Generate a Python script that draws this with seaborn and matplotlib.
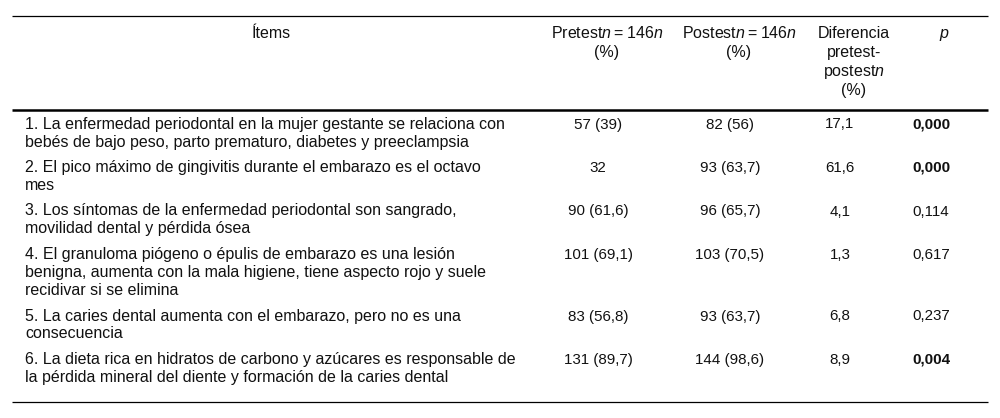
import matplotlib
matplotlib.use("Agg")
import matplotlib.pyplot as plt
import seaborn as sns

# datos de la tabla
items = [
    "1. La enfermedad periodontal en la mujer gestante se relaciona con\nbebés de bajo peso, parto prematuro, diabetes y preeclampsia",
    "2. El pico máximo de gingivitis durante el embarazo es el octavo\nmes",
    "3. Los síntomas de la enfermedad periodontal son sangrado,\nmovilidad dental y pérdida ósea",
    "4. El granuloma piógeno o épulis de embarazo es una lesión\nbenigna, aumenta con la mala higiene, tiene aspecto rojo y suele\nrecidivar si se elimina",
    "5. La caries dental aumenta con el embarazo, pero no es una\nconsecuencia",
    "6. La dieta rica en hidratos de carbono y azúcares es responsable de\nla pérdida mineral del diente y formación de la caries dental",
]
pretest = ["57 (39)", "32", "90 (61,6)", "101 (69,1)", "83 (56,8)", "131 (89,7)"]
postest = ["82 (56)", "93 (63,7)", "96 (65,7)", "103 (70,5)", "93 (63,7)", "144 (98,6)"]
diferencia = ["17,1", "61,6", "4,1", "1,3", "6,8", "8,9"]
p_valor = ["0,000", "0,000", "0,114", "0,617", "0,237", "0,004"]
significativo = [True, True, False, False, False, True]

headers = [
    "Ítems",
    "Pretest$n$\u2009=\u2009146$n$\n(%)",
    "Postest$n$\u2009=\u2009146$n$\n(%)",
    "Diferencia\npretest-\npostest$n$\n(%)",
    "$p$",
]

sns.set_theme(style="white")
font = "Liberation Sans"
plt.rcParams["font.family"] = [font, "DejaVu Sans"]
plt.rcParams["mathtext.fontset"] = "custom"
plt.rcParams["mathtext.it"] = font + ":italic"
plt.rcParams["mathtext.rm"] = font

fig = plt.figure(figsize=(10, 4.18), dpi=100)
ax = fig.add_axes([0, 0, 1, 1])
ax.set_xlim(0, 1000)
ax.set_ylim(418, 0)
ax.axis("off")

fs_txt = 11.5
fs_num = 10.9
lh = 18.0
head_x = [271, 607, 739, 854, 944]
data_x = [25, 598, 730, 840, 931]
ink = "#111111"

# cabecera
for x, h in zip(head_x, headers):
    for i, line in enumerate(h.split("\n")):
        ax.text(x, 38 + i * 19, line, ha="center", va="baseline",
                fontsize=fs_txt, color=ink)

ax.plot([12, 988], [15.5, 15.5], color="black", lw=0.9, solid_capstyle="butt")
ax.plot([12, 988], [109.5, 109.5], color="black", lw=1.8, solid_capstyle="butt")

y = 128.5
for k in range(len(items)):
    lines = items[k].split("\n")
    for i, line in enumerate(lines):
        ax.text(data_x[0], y + i * lh, line, ha="left", va="baseline",
                fontsize=fs_txt, color=ink)
    vals = [pretest[k], postest[k], diferencia[k]]
    for x, v in zip(data_x[1:4], vals):
        ax.text(x, y, v, ha="center", va="baseline", fontsize=fs_num, color=ink)
    ax.text(data_x[4], y, p_valor[k], ha="center", va="baseline", fontsize=fs_num,
            color=ink, fontweight="bold" if significativo[k] else "normal")
    y += len(lines) * lh + 7.5

ax.plot([12, 988], [402, 402], color="black", lw=0.9, solid_capstyle="butt")

fig.savefig("out.png", dpi=100, facecolor="white")
